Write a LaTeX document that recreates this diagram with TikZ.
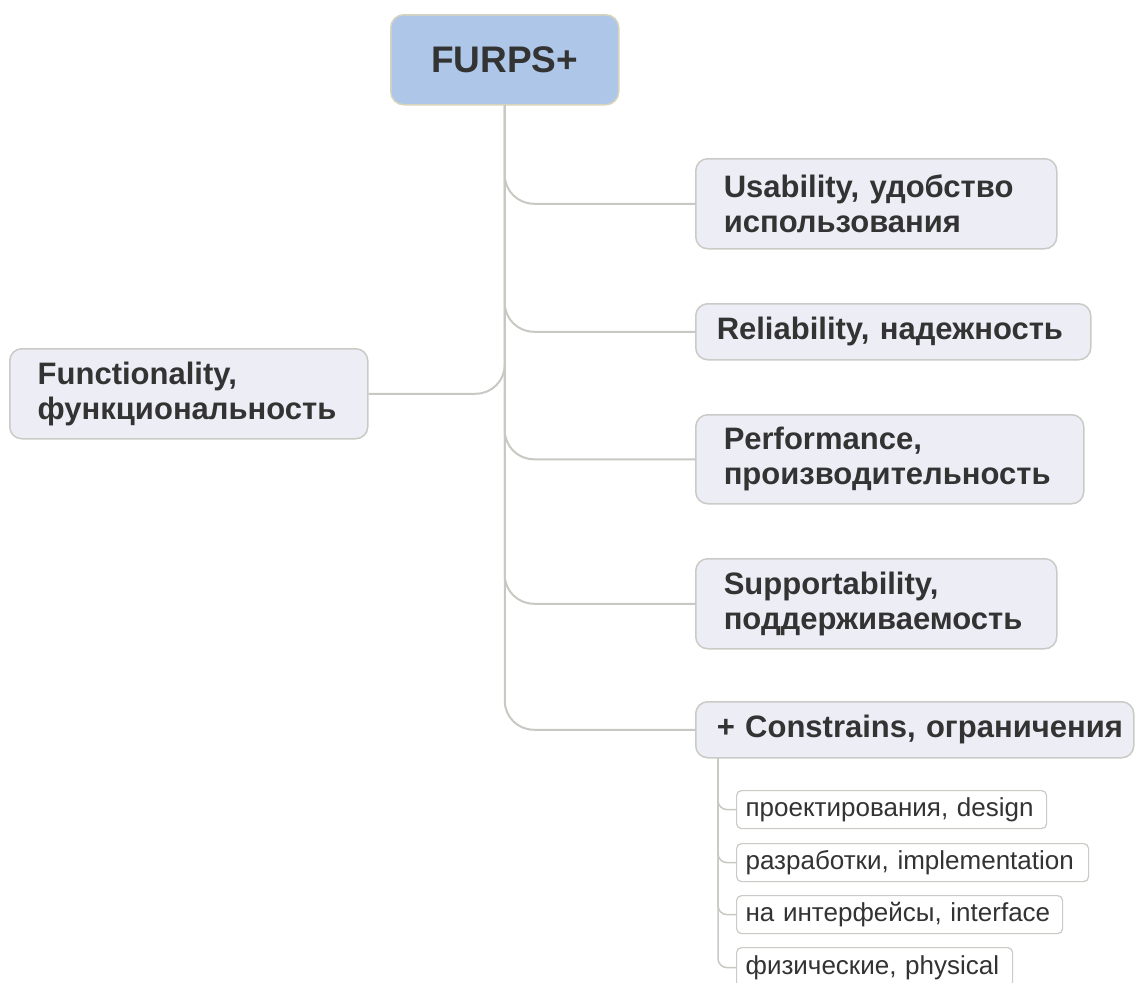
\documentclass[tikz,border=0pt]{standalone}
\usepackage{fontspec}
\setmainfont{Liberation Sans}
\definecolor{txt}{HTML}{333333}
\definecolor{boxfill}{HTML}{EDEDF5}
\definecolor{boxline}{HTML}{CACAC6}
\definecolor{rootfill}{HTML}{AEC6E7}
\definecolor{rootline}{HTML}{D8D4BC}
\definecolor{conn}{HTML}{C9C9C4}
\tikzset{
  topic/.style={draw=boxline, line width=1.5pt, fill=boxfill, rounded corners=12pt,
    anchor=north west, align=left, text=txt, inner ysep=0pt,
    font=\fontsize{31}{35}\selectfont\bfseries},
  subtopic/.style={draw=boxline, line width=1.2pt, fill=white, rounded corners=5pt,
    anchor=north west, align=left, text=txt, inner ysep=0pt, inner xsep=9pt,
    font=\fontsize{26}{30}\selectfont},
  link/.style={draw=conn, line width=2pt, rounded corners=29pt},
  sublink/.style={draw=conn, line width=1.5pt, rounded corners=9pt},
}
\begin{document}
\begin{tikzpicture}[x=1pt, y=-1pt]
\useasboundingbox[fill=white] (0,0) rectangle (1136,983);
% root
\node[draw=rootline, line width=1.5pt, fill=rootfill, rounded corners=13pt,
  anchor=north west, minimum width=228pt, minimum height=90pt, text=txt,
  font=\fontsize{37}{42}\selectfont\bfseries] (root) at (390,14) {FURPS+};
% topics
\node[topic, minimum width=361pt, minimum height=90pt, text width=305pt, inner xsep=28pt]
  (usab) at (695,158) {Usability, удобство\\использования};
\node[topic, minimum width=395pt, minimum height=56pt, text width=353pt, inner xsep=21pt]
  (reli) at (695,303) {Reliability, надежность};
\node[topic, minimum width=388pt, minimum height=89pt, text width=332pt, inner xsep=28pt]
  (perf) at (695,414) {Performance,\\производительность};
\node[topic, minimum width=361pt, minimum height=90pt, text width=305pt, inner xsep=28pt]
  (supp) at (695,558) {Supportability,\\поддерживаемость};
\node[topic, minimum width=438pt, minimum height=56pt, text width=396pt, inner xsep=21pt]
  (cons) at (695,701) {\mbox{+ Constrains, ограничения}};
\node[topic, minimum width=358pt, minimum height=90pt, text width=302pt, inner xsep=28pt]
  (func) at (9,348) {Functionality,\\функциональность};
% subtopics
\node[subtopic, minimum width=310pt, minimum height=38pt, text width=292pt]
  (s1) at (736,790) {проектирования, design};
\node[subtopic, minimum width=352pt, minimum height=38pt, text width=334pt]
  (s2) at (736,843) {разработки, implementation};
\node[subtopic, minimum width=326pt, minimum height=38pt, text width=308pt]
  (s3) at (736,895) {на интерфейсы, interface};
\node[subtopic, minimum width=276pt, minimum height=40pt, text width=258pt]
  (s4) at (736,947) {физические, physical};
% connectors
\draw[link] (root.south) |- (cons.west);
\draw[link] (root.south) |- (usab.west);
\draw[link] (root.south) |- (reli.west);
\draw[link] (root.south) |- (perf.west);
\draw[link] (root.south) |- (supp.west);
\draw[link] (root.south) |- (func.east);
\coordinate (ct) at ([xshift=23pt]cons.south west);
\draw[sublink] (ct) |- (s1.west);
\draw[sublink] (ct) |- (s2.west);
\draw[sublink] (ct) |- (s3.west);
\draw[sublink] (ct) |- (s4.west);
\end{tikzpicture}
\end{document}
